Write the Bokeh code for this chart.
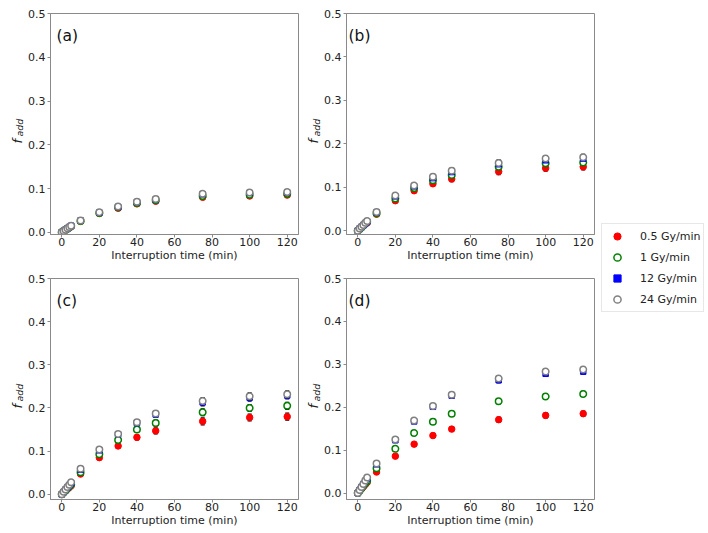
import math
from bokeh.plotting import figure
from bokeh.models import (ColumnDataSource, Whisker, TeeHead, Label, Legend,
                          LegendItem, NumeralTickFormatter, Range1d)
from bokeh.layouts import row, column
from bokeh.embed import file_html
from bokeh.resources import INLINE

# ---------------- data ----------------
time_min = [0, 1, 2, 3, 4, 5, 10, 20, 30, 40, 50, 75, 100, 120]
series_labels = ["0.5 Gy/min", "1 Gy/min", "12 Gy/min", "24 Gy/min"]
panel_letters = ["(a)", "(b)", "(c)", "(d)"]
x_ticks = [0, 20, 40, 60, 80, 100, 120]
y_ticks = [0.0, 0.1, 0.2, 0.3, 0.4, 0.5]
y_bottoms = [-0.005, -0.0088, -0.012, -0.015]

a_05 = [0, 0.003, 0.005, 0.008, 0.010, 0.013, 0.025, 0.043, 0.055, 0.065, 0.071, 0.080, 0.083, 0.085]
a_1 = [0, 0.003, 0.006, 0.008, 0.011, 0.014, 0.026, 0.044, 0.057, 0.067, 0.073, 0.083, 0.086, 0.088]
a_12 = [0, 0.003, 0.006, 0.009, 0.012, 0.015, 0.027, 0.045, 0.058, 0.069, 0.075, 0.087, 0.090, 0.091]
a_24 = [0, 0.003, 0.006, 0.009, 0.012, 0.015, 0.027, 0.046, 0.059, 0.070, 0.076, 0.088, 0.091, 0.092]
err_a = [0, 0.001, 0.001, 0.001, 0.001, 0.001, 0.002, 0.002, 0.003, 0.003, 0.003, 0.004, 0.004, 0.004]

b_05 = [0, 0.004, 0.008, 0.011, 0.015, 0.018, 0.038, 0.069, 0.092, 0.108, 0.119, 0.136, 0.144, 0.147]
b_1 = [0, 0.004, 0.008, 0.012, 0.016, 0.020, 0.040, 0.074, 0.098, 0.116, 0.128, 0.147, 0.155, 0.157]
b_12 = [0, 0.005, 0.009, 0.013, 0.017, 0.021, 0.042, 0.079, 0.102, 0.121, 0.135, 0.153, 0.162, 0.166]
b_24 = [0, 0.005, 0.009, 0.013, 0.018, 0.022, 0.043, 0.081, 0.104, 0.124, 0.138, 0.156, 0.166, 0.169]
err_b = [0, 0.001, 0.001, 0.001, 0.002, 0.002, 0.003, 0.004, 0.005, 0.006, 0.006, 0.007, 0.007, 0.007]

c_05 = [0, 0.004, 0.008, 0.012, 0.016, 0.020, 0.047, 0.085, 0.112, 0.132, 0.147, 0.169, 0.178, 0.180]
c_1 = [0, 0.005, 0.009, 0.014, 0.018, 0.023, 0.051, 0.093, 0.126, 0.150, 0.165, 0.190, 0.200, 0.205]
c_12 = [0, 0.005, 0.011, 0.016, 0.021, 0.026, 0.057, 0.102, 0.139, 0.165, 0.185, 0.213, 0.224, 0.229]
c_24 = [0, 0.006, 0.011, 0.017, 0.022, 0.028, 0.059, 0.104, 0.140, 0.167, 0.187, 0.216, 0.227, 0.232]
err_c = [0, 0.001, 0.001, 0.001, 0.002, 0.002, 0.003, 0.004, 0.005, 0.006, 0.007, 0.008, 0.008, 0.008]

d_05 = [0, 0.005, 0.010, 0.015, 0.020, 0.025, 0.049, 0.086, 0.114, 0.134, 0.149, 0.171, 0.181, 0.185]
d_1 = [0, 0.006, 0.012, 0.017, 0.023, 0.028, 0.058, 0.103, 0.140, 0.166, 0.185, 0.214, 0.225, 0.231]
d_12 = [0, 0.007, 0.014, 0.021, 0.028, 0.034, 0.067, 0.123, 0.167, 0.201, 0.227, 0.263, 0.278, 0.283]
d_24 = [0, 0.007, 0.014, 0.021, 0.029, 0.036, 0.069, 0.125, 0.169, 0.203, 0.229, 0.267, 0.283, 0.288]
err_d = [0, 0.001, 0.001, 0.001, 0.002, 0.002, 0.003, 0.003, 0.004, 0.005, 0.005, 0.006, 0.006, 0.006]

panels = [
    ([a_05, a_1, a_12, a_24], err_a),
    ([b_05, b_1, b_12, b_24], err_b),
    ([c_05, c_1, c_12, c_24], err_c),
    ([d_05, d_1, d_12, d_24], err_d),
]

# ---------------- styles ----------------
STYLES = [
    dict(marker="circle", fill_color="red", line_color="red", size=6.5, line_width=1),
    dict(marker="circle", fill_color="white", line_color="green", size=6.5, line_width=1.5),
    dict(marker="square", fill_color="blue", line_color="blue", size=5.5, line_width=1),
    dict(marker="circle", fill_color="white", line_color="gray", size=6.5, line_width=1.5),
]
FONT = "DejaVu Sans"
TXT = "#222222"
SPINE = "#8a8a8a"
FRAME_W, FRAME_H = 248, 221
TOP_H = 265
BOT_H = 264

# (min_border_left, right, top, bottom, letter dx)
GEOM = [
    (24, 2, 13, 31, 6),
    (24, 4, 13, 31, 2),
    (24, 2, 13, 30, 6),
    (24, 4, 13, 30, 2),
]
# y-label strips: (width, x of "f" baseline, x of "add" baseline)
YLAB = [(25, 16.5, 19), (21, 13, 15.5)]


def base_fig(w, h):
    f = figure(width=w, height=h, x_axis_location=None, y_axis_location=None,
               toolbar_location=None, output_backend="svg", min_border=0,
               outline_line_color=None)
    f.grid.visible = False
    return f


def ylabel_strip(kind, row_h):
    w, xf, xa = YLAB[kind]
    s = base_fig(w, row_h)
    s.add_layout(Label(x=xf, y=91, x_units="screen", y_units="screen", text="f",
                       angle=math.pi / 2, text_font=FONT, text_font_size="13px",
                       text_font_style="italic", text_color=TXT,
                       text_baseline="alphabetic", text_align="left"))
    s.add_layout(Label(x=xa, y=98, x_units="screen", y_units="screen", text="add",
                       angle=math.pi / 2, text_font=FONT, text_font_size="9.5px",
                       text_font_style="italic", text_color=TXT,
                       text_baseline="alphabetic", text_align="left"))
    return s


sources = {}


def make_panel(idx):
    ys, err = panels[idx]
    bl, br, bt, bb, ldx = GEOM[idx]
    p = figure(frame_width=FRAME_W, frame_height=FRAME_H,
               x_range=Range1d(-6, 126), y_range=Range1d(y_bottoms[idx], 0.5),
               output_backend="svg", toolbar_location=None,
               min_border_left=bl, min_border_right=br,
               min_border_top=bt, min_border_bottom=bb)
    p.grid.visible = False
    p.outline_line_color = SPINE
    p.outline_line_alpha = 1
    p.xaxis.ticker = x_ticks
    p.yaxis.ticker = y_ticks
    p.yaxis.formatter = NumeralTickFormatter(format="0.0")
    for ax in (p.xaxis[0], p.yaxis[0]):
        ax.axis_line_color = SPINE
        ax.major_tick_line_color = SPINE
        ax.minor_tick_line_color = None
        ax.major_tick_in = 0
        ax.major_tick_out = 3
        ax.major_label_text_font = FONT
        ax.major_label_text_font_size = "11px"
        ax.major_label_text_color = TXT
    p.xaxis.major_label_standoff = 0
    p.yaxis.major_label_standoff = 2
    p.xaxis.axis_label = "Interruption time (min)"
    p.xaxis.axis_label_text_font = FONT
    p.xaxis.axis_label_text_font_size = "11px"
    p.xaxis.axis_label_text_font_style = "normal"
    p.xaxis.axis_label_text_color = TXT
    p.xaxis.axis_label_standoff = 0

    for k in range(4):
        src = ColumnDataSource(dict(
            t=time_min, y=ys[k],
            lower=[v - e for v, e in zip(ys[k], err)],
            upper=[v + e for v, e in zip(ys[k], err)]))
        sources[(idx, k)] = src
        w = Whisker(source=src, base="t", lower="lower", upper="upper",
                    line_color="black", line_width=1.5,
                    upper_head=TeeHead(size=4, line_color="black", line_width=1.2),
                    lower_head=TeeHead(size=4, line_color="black", line_width=1.2))
        p.add_layout(w)
        p.scatter(x="t", y="y", source=src, **STYLES[k])

    p.add_layout(Label(x=ldx, y=FRAME_H - 22.5, x_units="screen", y_units="screen",
                       text=panel_letters[idx], text_font=FONT, text_font_size="15.5px",
                       text_color="#111111", text_baseline="alphabetic", text_align="left"))
    return p


figs = [make_panel(i) for i in range(4)]

top_row = row(ylabel_strip(0, TOP_H), figs[0], ylabel_strip(1, TOP_H), figs[1])
bot_row = row(ylabel_strip(0, BOT_H), figs[2], ylabel_strip(1, BOT_H), figs[3])

# legend column (proxy renderers reuse panel (d) data, kept out of view)
LEG_H = TOP_H + BOT_H
leg = base_fig(112, LEG_H)
leg.x_range = Range1d(1000, 1001)
leg.y_range = Range1d(1000, 1001)
items = []
for k in range(4):
    src = sources[(3, k)]
    r_m = leg.scatter(x="t", y="y", source=src, **STYLES[k])
    items.append(LegendItem(label=series_labels[k], renderers=[r_m]))
legend = Legend(items=items, location=(3, LEG_H - 312), padding=3, spacing=3,
                glyph_width=24, glyph_height=18, label_height=18, label_standoff=11,
                label_text_font=FONT, label_text_font_size="11px", label_text_color=TXT,
                border_line_color="#d0d0d0", border_line_width=1,
                background_fill_color="white", background_fill_alpha=1, margin=0)
leg.add_layout(legend)

layout = row(column(top_row, bot_row), leg)

open("out.html", "w").write(file_html(layout, INLINE))
